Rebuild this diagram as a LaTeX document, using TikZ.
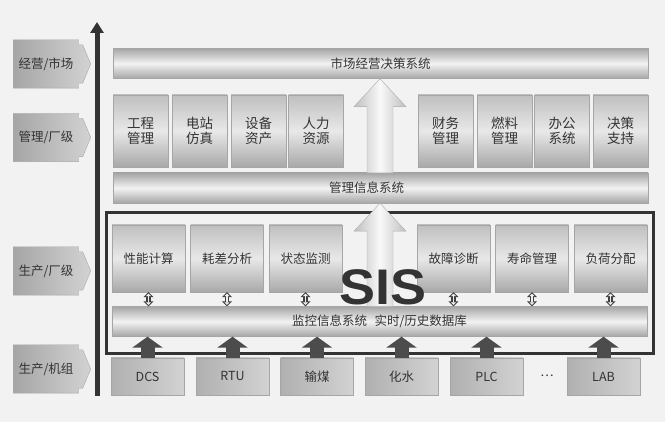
\documentclass[tikz,border=0pt]{standalone}
\usepackage{fontspec}
\newfontfamily\cjk{Noto Sans CJK SC}
\newfontfamily\sisfont{Liberation Sans}
\usetikzlibrary{calc,arrows.meta}
\begin{document}
\begin{tikzpicture}[x=1pt,y=-1pt,
  txt/.style={font=\cjk\fontsize{12.5}{15}\selectfont, text=black!80},
  bar/.style={txt, draw=gray!70, top color=gray!70, bottom color=gray!70, middle color=gray!10, minimum width=535pt, minimum height=30pt, inner sep=0pt},
  abox/.style={txt, font=\cjk\fontsize{13.5}{15.5}\selectfont, draw=gray!70, top color=gray!50, bottom color=gray!68, middle color=gray!18, minimum width=55pt, minimum height=72pt, inner sep=0pt, align=center},
  pbox/.style={txt, draw=gray!70, top color=gray!50, bottom color=gray!68, middle color=gray!18, minimum width=73pt, minimum height=67pt, inner sep=0pt},
  dbox/.style={txt, draw=gray!70, left color=gray!62, right color=gray!35, minimum width=73pt, minimum height=37pt, inner sep=0pt},
  lbl/.style={txt, minimum width=65pt, minimum height=48pt, inner sep=0pt, xshift=2pt},
  lblshape/.style={draw=gray!70, left color=gray!70, right color=gray!35},
  bigarrow/.style={draw=gray!65, left color=gray!50, right color=gray!50, middle color=gray!5},
  dblout/.style={line width=4.5pt, gray!50!black, {Triangle[width=10pt,length=5pt]}-{Triangle[width=10pt,length=5pt]}},
  dblin/.style={line width=1.8pt, gray!12, {Triangle[width=5pt,length=2.5pt]}-{Triangle[width=5pt,length=2.5pt]}, shorten <=1.5pt, shorten >=1.5pt},
  uparrow/.style={line width=14pt, gray!60!black, -{Triangle[width=30pt,length=11pt]}}
]
\useasboundingbox (0,0) rectangle (665,422);
\fill[gray!10] (0,0) rectangle (665,422);

% left labels
\foreach \n/\y in {L1/64, L2/137.5, L3/271, L4/369}{
  \node[lbl] (\n) at (44,\y) {};
  \path[lblshape] (\n.north west) -- (\n.north east) -- ++(0,5) -- ++(4,0)
     -- ($(\n.east)+(12,0)$) -- ($(\n.south east)+(4,-5)$) -- ++(-4,0)
     -- (\n.south east) -- (\n.south west) -- cycle;
}
\node[txt] at (L1) {经营/市场};
\node[txt] at (L2) {管理/厂级};
\node[txt] at (L3) {生产/厂级};
\node[txt] at (L4) {生产/机组};

% vertical axis arrow
\coordinate (vb) at (97,396);
\coordinate (vt) at (97,22);
\draw[line width=5pt, gray!40!black, -{Triangle[width=13pt,length=11pt]}] (vb) -- (vt);

% top bar
\node[bar] (mkt) at (380.5,63.5) {市场经营决策系统};
% management boxes
\node[abox] (m1) at (140.5,131) {工程\\管理};
\node[abox] (m2) at (199.5,131) {电站\\仿真};
\node[abox] (m3) at (258.5,131) {设备\\资产};
\node[abox] (m4) at (316,131) {人力\\资源};
\node[abox] (m5) at (445.5,131) {财务\\管理};
\node[abox] (m6) at (504.5,131) {燃料\\管理};
\node[abox] (m7) at (562,131) {办公\\系统};
\node[abox] (m8) at (620.5,131) {决策\\支持};
% MIS bar
\node[bar] (mis) at (380.5,188) {\hspace*{-28pt}管理信息系统};

% SIS frame
\node[draw=gray!40!black, line width=3pt, minimum width=547pt, minimum height=141pt, inner sep=0pt] (sis) at (379.5,283.5) {};

% production boxes
\node[pbox] (p1) at (148.5,258.5) {性能计算};
\node[pbox] (p2) at (227,258.5) {耗差分析};
\node[pbox] (p3) at (305.5,258.5) {状态监测};
\node[pbox] (p4) at (453.5,258.5) {故障诊断};
\node[pbox] (p5) at (532,258.5) {寿命管理};
\node[pbox] (p6) at (610.5,258.5) {负荷分配};

% monitoring bar
\node[bar] (mon) at (379.5,321.5) {监控信息系统\hspace{0.6em}实时/历史数据库};

% double arrows
\foreach \p in {p1,p2,p3,p4,p5,p6}{
  \draw[dblout] (\p.south) -- (\p.south |- mon.north);
  \draw[dblin] (\p.south) -- (\p.south |- mon.north);
}

% big arrows
\path[bigarrow] let \p1=(mis.north), \p2=(mkt.south) in
  (380pt-13pt,\y1) -- (380pt-13pt,\y2-28pt) -- (380pt-26pt,\y2-28pt) -- (380pt,\y2)
  -- (380pt+26pt,\y2-28pt) -- (380pt+13pt,\y2-28pt) -- (380pt+13pt,\y1) -- cycle;
\path[bigarrow] let \p1=(mon.north), \p2=(mis.south) in
  (380pt-13pt,\y1) -- (380pt-13pt,\y2-28pt) -- (380pt-26pt,\y2-28pt) -- (380pt,\y2)
  -- (380pt+26pt,\y2-28pt) -- (380pt+13pt,\y2-28pt) -- (380pt+13pt,\y1) -- cycle;

% SIS label
\node[font=\sisfont\bfseries\fontsize{50}{50}\selectfont, text=gray!40!black, xscale=1.08, inner sep=0pt] (sislbl) at (383,287) {SIS};

% device boxes
\node[dbox] (d1) at (147.5,376.5) {DCS};
\node[dbox] (d2) at (232.5,376.5) {RTU};
\node[dbox] (d3) at (317,376.5) {输煤};
\node[dbox] (d4) at (401.5,376.5) {化水};
\node[dbox] (d5) at (486.5,376.5) {PLC};
\node[txt] (dots) at (547,376) {…};
\node[dbox] (d6) at (603.5,376.5) {LAB};

\foreach \d in {d1,d2,d3,d4,d5,d6}{
  \draw[uparrow] (\d.north) -- (\d.north |- mon.south);
}
\end{tikzpicture}
\end{document}
